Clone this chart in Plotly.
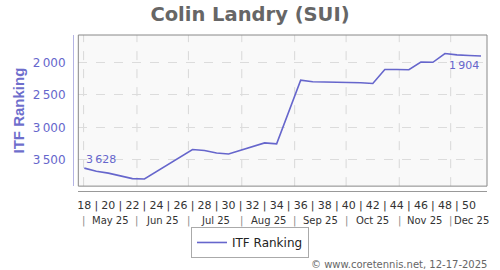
import plotly.graph_objects as go

# ---- data ----
weeks = list(range(18, 52))
ranking = [3628, 3676, 3705, 3750, 3790, 3796, 3682, 3568, 3454, 3341,
           3356, 3395, 3410, 3356, 3296, 3240, 3255, 2765, 2275, 2300,
           2302, 2305, 2310, 2315, 2325, 2110, 2110, 2115, 1995, 2000,
           1865, 1886, 1895, 1904]
week_tick_vals = list(range(18, 51))
week_tick_text = [str(w) if w % 2 == 0 else "|" for w in week_tick_vals]
month_bounds = [17.94, 22.38, 26.66, 31.10, 35.50, 39.78, 44.20, 48.48]
month_labels = ["May 25", "Jun 25", "Jul 25", "Aug 25", "Sep 25", "Oct 25", "Nov 25", "Dec 25"]
y_tick_vals = [2000, 2500, 3000, 3500]
x_range = [17.5, 51.5]
y_range = [3905, 1580]

LINE = "#6666cc"
FONT = "DejaVu Sans"
MONTH_Y = -0.19

def fmt(v):
    return f"{v:,}".replace(",", "\u2009")

fig = go.Figure()
fig.add_trace(go.Scatter(x=weeks, y=ranking, mode="lines", name="ITF Ranking",
                         line=dict(color=LINE, width=1.6)))

shapes = []
annotations = []
for b in month_bounds:
    shapes.append(dict(type="line", xref="x", yref="y domain", x0=b, x1=b, y0=0, y1=1,
                       line=dict(color="#d8d8d8", width=1, dash="dash"), layer="below"))
    annotations.append(dict(x=b, y=MONTH_Y, xref="x", yref="paper", text="|", showarrow=False,
                            font=dict(family=FONT, size=10, color="#888"), yanchor="middle"))
ends = month_bounds[1:] + [x_range[1]]
for i, (lab, a, b) in enumerate(zip(month_labels, month_bounds, ends)):
    last = i == len(month_labels) - 1
    annotations.append(dict(x=a if last else (a + b) / 2, y=MONTH_Y, xref="x", yref="paper",
                            text=lab, showarrow=False,
                            xanchor="left" if last else "center", xshift=1 if last else 0,
                            font=dict(family=FONT, size=10, color="#333"),
                            yanchor="middle"))
shapes.append(dict(type="rect", xref="x domain", yref="y domain", x0=0, x1=1, y0=0, y1=1,
                   line=dict(color="#888", width=1), layer="above"))
annotations.append(dict(x=weeks[0], y=ranking[0], xref="x", yref="y", text=fmt(ranking[0]),
                        showarrow=False, xanchor="left", yanchor="middle", yshift=8.5,
                        font=dict(family=FONT, size=11, color=LINE)))
annotations.append(dict(x=weeks[-1], y=ranking[-1], xref="x", yref="y", text=fmt(ranking[-1]),
                        showarrow=False, xanchor="right", yanchor="middle", yshift=-9,
                        font=dict(family=FONT, size=11, color=LINE)))
annotations.append(dict(x=1, y=-0.47, xref="paper", yref="paper", xanchor="right",
                        yanchor="middle", text="\u00a9 www.coretennis.net, 12-17-2025",
                        showarrow=False, xshift=2,
                        font=dict(family=FONT, size=10, color="#666")))

fig.update_layout(
    width=500, height=270,
    margin=dict(l=73, r=13, t=35, b=75),
    paper_bgcolor="white", plot_bgcolor="#f9f9f9",
    separators=".\u2009",
    title=dict(text="Colin Landry (SUI)", x=0.5, xanchor="center", y=1 - 14 / 270,
               yanchor="middle", font=dict(family=FONT, size=19.5, color="#666", weight="bold")),
    font=dict(family=FONT),
    xaxis=dict(domain=[5.3 / 414, 1], range=x_range, anchor="free", position=0,
               tickmode="array", tickvals=week_tick_vals, ticktext=week_tick_text,
               showgrid=False, zeroline=False, showline=True, linecolor="#999", linewidth=1,
               ticks="", ticklabelstandoff=4,
               tickfont=dict(family=FONT, size=11, color="#333")),
    yaxis=dict(domain=[5 / 160, 1], range=y_range, anchor="free", position=0,
               tickmode="array", tickvals=y_tick_vals, tickformat=",d",
               showgrid=True, gridcolor="#dcdcdc", griddash="dash", zeroline=False,
               showline=True, linecolor="#b4b4e4", linewidth=1, ticks="outside",
               ticklen=5, tickcolor="rgba(0,0,0,0)",
               tickfont=dict(family=FONT, size=12, color=LINE),
               title=dict(text="ITF Ranking", standoff=3,
                          font=dict(family="Liberation Sans", size=15, color="#6e6ecc",
                                    weight="bold"))),
    showlegend=True,
    legend=dict(orientation="h", x=0.4275, xanchor="center", y=-0.33, yanchor="middle",
                bordercolor="#aaa", borderwidth=1, bgcolor="white",
                font=dict(family=FONT, size=12, color="#222"), itemwidth=30),
    shapes=shapes, annotations=annotations,
)

fig.write_html("out.html")
